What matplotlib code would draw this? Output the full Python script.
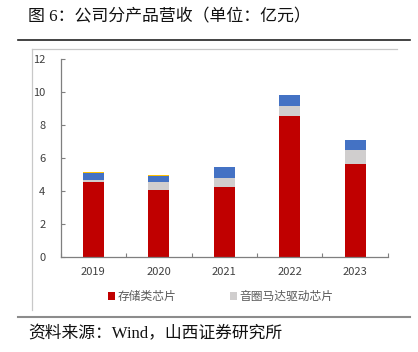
import matplotlib.pyplot as plt
from matplotlib.lines import Line2D
from matplotlib.patches import Patch
import numpy as np

plt.rcParams['font.family'] = ['Noto Sans CJK SC', 'DejaVu Sans']

# ---------------------------------------------------------------------------
# Data (亿元)
# ---------------------------------------------------------------------------
years = ["2019", "2020", "2021", "2022", "2023"]
storage = [4.55, 4.08, 4.24, 8.56, 5.64]      # 存储类芯片
vcm_driver = [0.12, 0.47, 0.55, 0.57, 0.86]   # 音圈马达驱动芯片
other = [0.44, 0.38, 0.64, 0.71, 0.57]
minor = [0.05, 0.05, 0.04, 0.0, 0.04]

series_names = ["存储类芯片", "音圈马达驱动芯片"]
colors = ["#C00000", "#D0CECE", "#4472C4", "#FFC000"]
yticks = [0, 2, 4, 6, 8, 10, 12]

fig = plt.figure(figsize=(4.18, 3.52), dpi=100)
ax = fig.add_axes([0.145, 0.270, 0.783, 0.562])

x = np.arange(len(years))
bottom = np.zeros(len(years))
for vals, c in zip([storage, vcm_driver, other, minor], colors):
    ax.bar(x, vals, width=0.32, bottom=bottom, color=c, linewidth=0)
    bottom += np.array(vals)

ax.set_xlim(-0.5, len(years) - 0.5)
ax.set_ylim(0, 12)
ax.set_yticks(yticks)
ax.set_yticklabels([str(v) for v in yticks])
ax.set_xticks(x)
ax.set_xticklabels(years)
ax.set_xticks(np.arange(len(years) + 1) - 0.5, minor=True)

axis_color = "#7f7f7f"
for side in ["top", "right"]:
    ax.spines[side].set_visible(False)
for side in ["left", "bottom"]:
    ax.spines[side].set_color(axis_color)
    ax.spines[side].set_linewidth(0.9)

ax.tick_params(axis="y", direction="in", length=3, width=0.8, color=axis_color,
               labelsize=8, labelcolor="#404040", pad=11)
ax.tick_params(axis="x", which="major", length=0, labelsize=8,
               labelcolor="#404040", pad=7)
ax.tick_params(axis="x", which="minor", direction="in", length=3, width=0.8,
               color=axis_color)

handles = [Patch(facecolor=colors[0]), Patch(facecolor=colors[1])]
fig.legend(handles, series_names, loc="center", bbox_to_anchor=(0.528, 0.157),
           ncol=2, frameon=False, fontsize=8.5, handlelength=0.6,
           handleheight=0.6, handletextpad=0.2, columnspacing=4.6,
           labelcolor="#595959")

# frame lines around the chart block
fig.add_artist(Line2D([18 / 418, 410 / 418], [1 - 40 / 352] * 2,
                      color="#222222", linewidth=1.2))
fig.add_artist(Line2D([32 / 418, 397 / 418], [1 - 48.5 / 352] * 2,
                      color="#c8c8c8", linewidth=0.9))
fig.add_artist(Line2D([32 / 418] * 2, [1 - 48.5 / 352, 1 - 310 / 352],
                      color="#c8c8c8", linewidth=0.9))
fig.add_artist(Line2D([18 / 418, 410 / 418], [1 - 317 / 352] * 2,
                      color="#8c8c8c", linewidth=1.5))

serif_cjk = ["Liberation Serif", "Noto Sans CJK SC"]
fig.text(28 / 418, 1 - 17 / 352, "图 6：公司分产品营收（单位：亿元）",
         fontsize=12.2, family=serif_cjk, va="center", ha="left", color="#111111")
fig.text(28 / 418, 1 - 334 / 352, "资料来源：Wind，山西证券研究所",
         fontsize=12.1, family=serif_cjk, va="center", ha="left", color="#111111")

fig.savefig("out.png", dpi=100)
